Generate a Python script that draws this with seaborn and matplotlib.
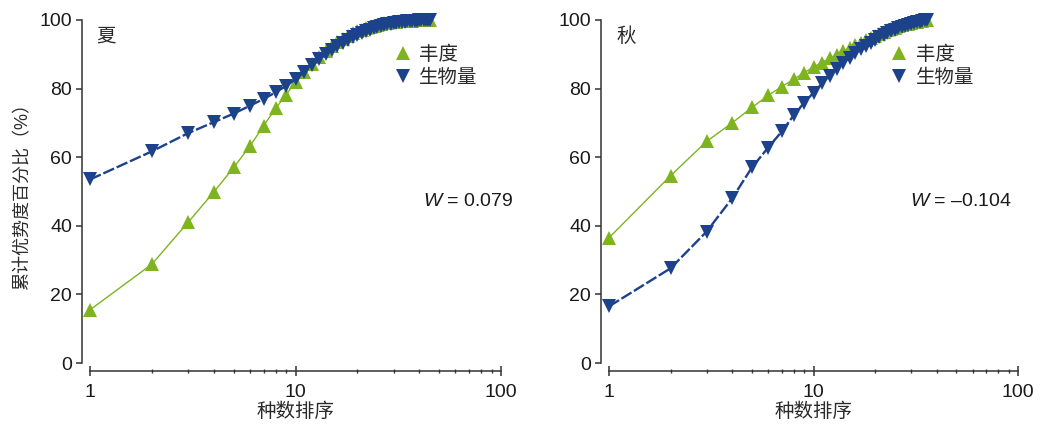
import matplotlib
matplotlib.use("Agg")
import matplotlib.pyplot as plt
from matplotlib.lines import Line2D
from matplotlib.ticker import LogLocator, FixedLocator, NullFormatter
import numpy as np
import pandas as pd
import seaborn as sns

# ---- data: cumulative dominance (%) against species rank ----
summer_rank = list(range(1, 46))
summer_abundance = [15.5, 28.8, 41.0, 49.8, 57.0, 63.2, 69.2, 74.2, 78.2, 82.0,
                    84.8, 87.2, 89.3, 91.0, 92.4, 93.6, 94.6, 95.4, 96.1, 96.7,
                    97.2, 97.6, 98.0, 98.3, 98.6, 98.8, 99.0, 99.15, 99.3, 99.4,
                    99.5, 99.58, 99.65, 99.7, 99.75, 99.8, 99.84, 99.87, 99.9, 99.92,
                    99.94, 99.96, 99.98, 99.99, 100.0]
summer_biomass = [53.5, 61.7, 67.0, 70.2, 72.7, 75.0, 77.0, 78.9, 80.8, 82.7,
                  84.8, 86.8, 88.5, 90.0, 91.3, 92.4, 93.4, 94.3, 95.0, 95.7,
                  96.3, 96.8, 97.2, 97.6, 97.9, 98.2, 98.45, 98.7, 98.9, 99.05,
                  99.2, 99.32, 99.43, 99.52, 99.6, 99.67, 99.73, 99.79, 99.84, 99.88,
                  99.92, 99.95, 99.97, 99.99, 100.0]

autumn_rank = list(range(1, 37))
autumn_abundance = [36.5, 54.6, 64.6, 70.0, 74.5, 78.0, 80.6, 82.7, 84.6, 86.3,
                    87.6, 88.8, 89.9, 90.9, 91.8, 92.6, 93.4, 94.1, 94.8, 95.4,
                    96.0, 96.5, 97.0, 97.4, 97.8, 98.15, 98.45, 98.7, 98.95, 99.15,
                    99.35, 99.5, 99.65, 99.8, 99.9, 100.0]
autumn_biomass = [16.5, 27.6, 38.3, 48.0, 57.0, 62.8, 67.5, 72.2, 75.9, 78.8,
                  81.5, 83.8, 85.8, 87.5, 89.0, 90.3, 91.5, 92.5, 93.4, 94.2,
                  94.9, 95.6, 96.2, 96.7, 97.2, 97.6, 98.0, 98.35, 98.65, 98.9,
                  99.15, 99.35, 99.55, 99.72, 99.87, 100.0]

seasons = ["夏", "秋"]
w_labels = ["0.079", "\u20130.104"]
metrics = ["丰度", "生物量"]
x_ticks = [1, 10, 100]
y_ticks = [0, 20, 40, 60, 80, 100]

panels = [
    (summer_rank, summer_abundance, summer_biomass),
    (autumn_rank, autumn_abundance, autumn_biomass),
]

# ---- style ----
sns.set_theme(style="ticks")
plt.rcParams["font.family"] = ["Liberation Sans", "Noto Sans CJK SC"]
plt.rcParams["mathtext.fontset"] = "custom"
plt.rcParams["mathtext.it"] = "Liberation Sans:italic"
plt.rcParams["mathtext.rm"] = "Liberation Sans"

GREEN = "#7db41f"
BLUE = "#1d428c"
AX_COLOR = "#333333"
TEXT_COLOR = "#1a1a1a"
CJK_COLOR = "#2a2a2a"
NUM_SIZE = 14
CJK_SIZE = 14

fig = plt.figure(figsize=(10.43, 4.26), dpi=100)
W, H = 1043, 426
axes = [
    fig.add_axes([90 / W, 1 - 363 / H, 411 / W, 343 / H]),
    fig.add_axes([609 / W, 1 - 363 / H, 409 / W, 343 / H]),
]

legend_x = [0.742, 0.69]
label_pos = [(0.038, 0.95), (0.042, 0.95)]
w_pos = [(1.03, 0.47), (0.985, 0.47)]

for i, ax in enumerate(axes):
    rank, abund, biom = panels[i]
    df = pd.DataFrame({
        "rank": rank * 2,
        "pct": abund + biom,
        "metric": [metrics[0]] * len(rank) + [metrics[1]] * len(rank),
    })
    sns.lineplot(data=df[df.metric == metrics[0]], x="rank", y="pct", ax=ax,
                 color=GREEN, lw=1.0, marker="^", markersize=10,
                 markeredgewidth=0, clip_on=False, errorbar=None, zorder=3)
    sns.lineplot(data=df[df.metric == metrics[1]], x="rank", y="pct", ax=ax,
                 color=BLUE, lw=1.7, linestyle=(0, (5, 1.2)), marker="v",
                 markersize=10, markeredgewidth=0, clip_on=False,
                 errorbar=None, zorder=4)

    ax.set_xscale("log")
    ax.set_xlim(1, 100)
    ax.set_ylim(0, 100)
    ax.xaxis.set_major_locator(FixedLocator(x_ticks))
    ax.set_xticklabels([str(t) for t in x_ticks])
    ax.xaxis.set_minor_locator(LogLocator(base=10, subs=np.arange(2, 10)))
    ax.xaxis.set_minor_formatter(NullFormatter())
    ax.set_yticks(y_ticks)

    for side in ("top", "right"):
        ax.spines[side].set_visible(False)
    for side in ("left", "bottom"):
        ax.spines[side].set_position(("outward", 6))
        ax.spines[side].set_color(AX_COLOR)
        ax.spines[side].set_linewidth(1.1)

    ax.tick_params(axis="x", which="major", direction="inout", length=7,
                   width=1.1, color=AX_COLOR, labelsize=NUM_SIZE, pad=5.5,
                   labelcolor=TEXT_COLOR)
    ax.tick_params(axis="x", which="minor", direction="inout", length=3.5,
                   width=1.0, color=AX_COLOR)
    ax.tick_params(axis="y", which="major", direction="out", length=4,
                   width=1.1, color=AX_COLOR, labelsize=NUM_SIZE, pad=3,
                   labelcolor=TEXT_COLOR)

    ax.set_xlabel("种数排序", fontsize=CJK_SIZE, color=CJK_COLOR, labelpad=1)
    if i == 0:
        ax.set_ylabel("累计优势度百分比（%）", fontsize=13, color=CJK_COLOR,
                      labelpad=6)
    else:
        ax.set_ylabel("")

    ax.text(label_pos[i][0], label_pos[i][1], seasons[i], transform=ax.transAxes,
            fontsize=CJK_SIZE, color=CJK_COLOR, ha="center", va="center")
    ax.text(w_pos[i][0], w_pos[i][1], "$W$ = " + w_labels[i],
            transform=ax.transAxes, fontsize=NUM_SIZE, color=TEXT_COLOR,
            ha="right", va="center")

    handles = [
        Line2D([], [], linestyle="none", marker="^", markersize=10,
               markeredgewidth=0, color=GREEN),
        Line2D([], [], linestyle="none", marker="v", markersize=10,
               markeredgewidth=0, color=BLUE),
    ]
    leg = ax.legend(handles, metrics, loc="upper left",
                    bbox_to_anchor=(legend_x[i], 0.925), frameon=False,
                    fontsize=CJK_SIZE, borderpad=0, borderaxespad=0,
                    handlelength=0.8, handletextpad=0.45, labelspacing=0.25)
    for t in leg.get_texts():
        t.set_color(CJK_COLOR)

fig.savefig("out.png", dpi=100)
